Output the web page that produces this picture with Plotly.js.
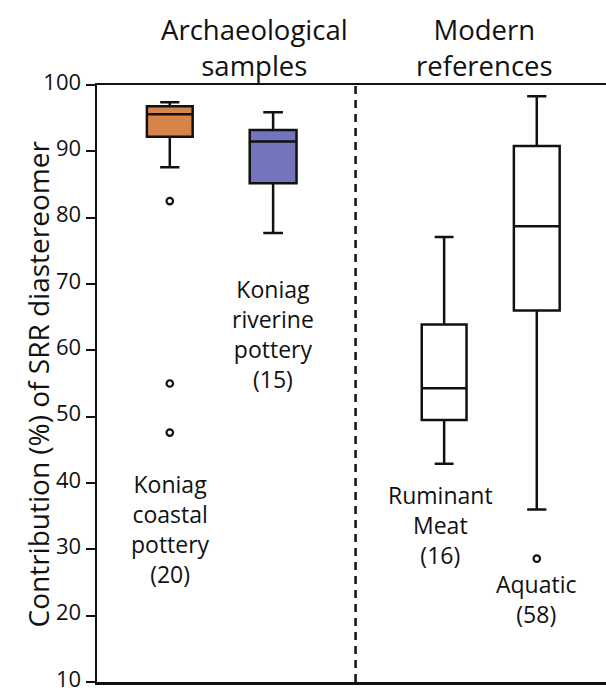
<!DOCTYPE html>
<html>
<head>
<meta charset="utf-8">
<script src="https://cdn.plot.ly/plotly-3.0.1.min.js"></script>
<style>html,body{margin:0;padding:0;background:#fff;}#chart{width:606px;height:691px;}</style>
</head>
<body>
<div id="chart"></div>
<script>
// Data
const groups = ['Koniag<br>coastal<br>pottery', 'Koniag<br>riverine<br>pottery', 'Ruminant<br>Meat', 'Aquatic'];
const counts = [20, 15, 16, 58];
const upperWhisker = [97.4, 95.9, 77.1, 98.3];
const q3 = [96.8, 93.2, 63.9, 90.8];
const medians = [95.6, 91.5, 54.3, 78.7];
const q1 = [92.2, 85.2, 49.5, 66.0];
const lowerWhisker = [87.6, 77.7, 42.9, 36.0];
const outliers = [[82.5, 55.0, 47.6], [], [], [28.6]];
const yTicks = [10, 20, 30, 40, 50, 60, 70, 80, 90, 100];
const sectionTitles = ['Archaeological<br>samples', 'Modern<br>references'];
const yTitle = 'Contribution (%) of SRR diastereomer';

// Layout (positions / styles)
const xPos = [1.43, 3.46, 6.82, 8.64];
const boxWidths = [0.9, 0.92, 0.88, 0.9];
const fills = ['#D5844A', '#7474BC', '#FFFFFF', '#FFFFFF'];
const dividerX = 5.08;
const labelY = [33.0, 62.5, 33.6, 22.5];
const labelX = [1.45, 3.46, 6.74, 8.64];
const sectionX = [0.31, 0.762];
const FONT = 'Open Sans, Liberation Sans, sans-serif';

const traces = [];
groups.forEach((g, i) => {
  traces.push({
    type: 'box',
    x: [xPos[i]],
    q1: [q1[i]], median: [medians[i]], q3: [q3[i]],
    lowerfence: [lowerWhisker[i]], upperfence: [upperWhisker[i]],
    width: boxWidths[i],
    whiskerwidth: 0.42,
    fillcolor: fills[i],
    line: {color: '#111', width: 2.5},
    boxpoints: false,
    hoverinfo: 'skip',
    showlegend: false
  });
  if (outliers[i].length) {
    traces.push({
      type: 'scatter', mode: 'markers',
      x: outliers[i].map(() => xPos[i]),
      y: outliers[i],
      marker: {symbol: 'circle-open', size: 6.5, color: '#111', line: {width: 2.2, color: '#111'}},
      hoverinfo: 'skip', showlegend: false, cliponaxis: false
    });
  }
});

const annotations = groups.map((g, i) => ({
  x: labelX[i], y: labelY[i], xref: 'x', yref: 'y',
  text: g + '<br>(' + counts[i] + ')',
  showarrow: false, xanchor: 'center', yanchor: 'middle', align: 'center',
  font: {family: FONT, size: 23, color: '#111'}
}));
sectionTitles.forEach((t, i) => annotations.push({
  x: sectionX[i], y: 1.063, xref: 'paper', yref: 'paper',
  text: t, showarrow: false, xanchor: 'center', yanchor: 'middle', align: 'center',
  font: {family: FONT, size: 27.5, color: '#111'}
}));
annotations.push({
  x: -0.116, y: 0.5, xref: 'paper', yref: 'paper',
  text: yTitle, textangle: -90, showarrow: false, xanchor: 'center', yanchor: 'middle',
  font: {family: FONT, size: 28, color: '#111'}
});

const layout = {
  width: 606, height: 691,
  margin: {l: 97, r: 0, t: 85, b: 9},
  paper_bgcolor: '#fff', plot_bgcolor: '#fff',
  font: {family: FONT, color: '#111'},
  xaxis: {
    range: [0, 10], showgrid: false, zeroline: false, showticklabels: false,
    ticks: '', showline: true, linecolor: '#111', linewidth: 2.5, mirror: true, fixedrange: true
  },
  yaxis: {
    range: [10, 100], tickvals: yTicks, ticktext: yTicks.map(String),
    showgrid: false, zeroline: false, showline: true, linecolor: '#111', linewidth: 2.5,
    ticks: 'outside', ticklen: 9, tickwidth: 2, tickcolor: '#111',
    tickfont: {family: FONT, size: 22, color: '#111'},
    ticklabeloverflow: 'allow', ticklabelshift: -3,
    title: {text: ''},
    automargin: false, fixedrange: true
  },
  shapes: [{
    type: 'line', xref: 'x', yref: 'paper', x0: dividerX, x1: dividerX, y0: 0, y1: 1,
    line: {color: '#111', width: 2.5, dash: '8px,6px'}
  }],
  annotations: annotations,
  showlegend: false
};

Plotly.newPlot('chart', traces, layout, {displayModeBar: false, staticPlot: true});
</script>
</body>
</html>
